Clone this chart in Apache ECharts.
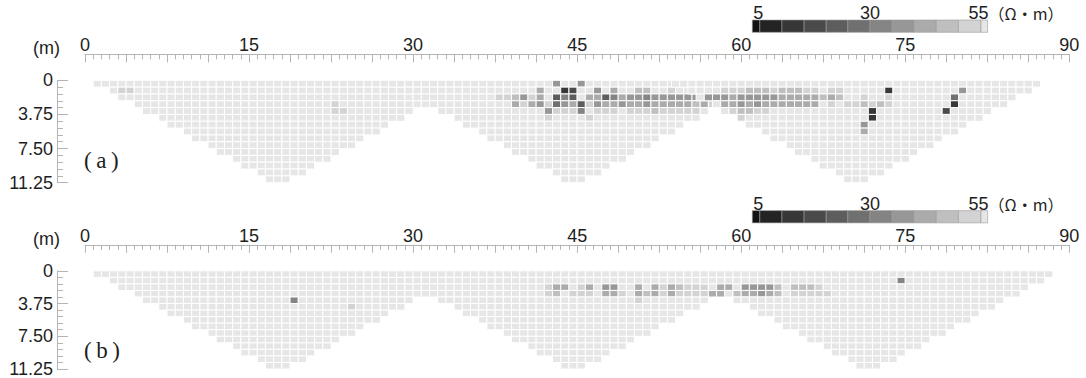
<!DOCTYPE html>
<html>
<head>
<meta charset="utf-8">
<script src="https://cdn.jsdelivr.net/npm/echarts@6/dist/echarts.min.js"></script>
<style>
  html, body { margin: 0; padding: 0; background: #ffffff; }
  #chart { width: 1086px; height: 378px; }
</style>
</head>
<body>
<div id="chart"></div>
<script>
// ---- tick labels ----
const xTickLabels = [0, 15, 30, 45, 60, 75, 90];
const depthTickLabels = ['0', '3.75', '7.50', '11.25'];
const colorbarTicks = [5, 30, 55];
const colorbarUnit = '（Ω・m）';
const panelTags = ['(\u2009a\u2009)', '(\u2009b\u2009)'];

// ---- resistivity classes (Ω·m) and their grey shades ----
const classBreaks = [5, 6.6, 11.3, 16, 20.7, 25.3, 30, 34.7, 39.4, 44.1, 48.8, 53.6, 55];
const classColors = ['#121212', '#232323', '#373737', '#4a4a4a', '#5d5d5d', '#707070',
                     '#848484', '#979797', '#ababab', '#bfbfbf', '#d3d3d3', '#e6e6e6'];

// ---- pseudo-section geometry: one spread, level 0 (top) .. 14 (bottom) ----
const cellSize = 0.75;   // m
const spreadLeft  = [0.75, 2.25, 3.0, 4.5, 5.25, 6.75, 7.5, 9.0, 9.75, 11.25, 12.0, 13.5, 14.25, 15.75, 16.5];
const spreadRight = [34.5, 33.75, 32.25, 31.5, 30.0, 29.25, 27.75, 27.0, 25.5, 24.75, 23.25, 22.5, 21.0, 20.25, 18.75];
const spreadOffsetsA = [0, 27, 52.875];
const spreadOffsetsB = [0, 27, 54];
const backgroundRho = 54;

// ---- measured cells differing from background: [level, left edge (m), ρ] ----
const cellsA1 = [
  [1, 3.0, 51], [1, 3.75, 51], [3, 22.5, 51], [4, 22.5, 51], [4, 23.25, 51]
];
const cellsA2 = [
  [0, 42.75, 37], [0, 45.0, 37],
  [1, 41.25, 42], [1, 43.5, 14], [1, 44.25, 18], [1, 46.5, 37], [1, 48.0, 42], [1, 50.25, 46], [1, 51.0, 46], [1, 53.25, 51],
  [2, 37.5, 51], [2, 38.25, 51], [2, 39.0, 46], [2, 39.75, 37], [2, 40.5, 51], [2, 41.25, 42], [2, 42.75, 23], [2, 43.5, 32],
  [2, 44.25, 23], [2, 45.75, 42], [2, 46.5, 42], [2, 47.25, 23], [2, 48.0, 32], [2, 48.75, 42], [2, 49.5, 37], [2, 50.25, 37],
  [2, 51.0, 32], [2, 51.75, 37], [2, 52.5, 37], [2, 53.25, 37], [2, 54.0, 37], [2, 54.75, 37], [2, 55.5, 37],
  [3, 39.0, 42], [3, 39.75, 51], [3, 40.5, 42], [3, 41.25, 37], [3, 42.0, 51], [3, 42.75, 28], [3, 43.5, 37], [3, 44.25, 42],
  [3, 45.0, 23], [3, 45.75, 51], [3, 46.5, 37], [3, 47.25, 42], [3, 48.0, 42], [3, 48.75, 37], [3, 49.5, 42], [3, 50.25, 42],
  [3, 51.0, 37], [3, 51.75, 42], [3, 52.5, 42], [3, 53.25, 42], [3, 54.0, 42], [3, 54.75, 42], [3, 55.5, 46], [3, 56.25, 42], [3, 57.0, 51],
  [4, 42.0, 37], [4, 42.75, 51], [4, 43.5, 51], [4, 44.25, 51], [4, 45.0, 32], [4, 46.5, 51], [4, 47.25, 51], [4, 48.0, 51],
  [4, 49.5, 51], [4, 50.25, 51], [4, 51.0, 51], [4, 51.75, 46], [4, 52.5, 51], [4, 53.25, 51], [4, 54.0, 51], [4, 54.75, 51], [4, 55.5, 51],
  [5, 42.0, 51], [5, 45.75, 51]
];
const cellsA3 = [
  [1, 58.125, 51], [1, 58.875, 51], [1, 59.625, 51], [1, 60.375, 48], [1, 61.125, 46], [1, 61.875, 46], [1, 62.625, 51],
  [1, 63.375, 46], [1, 64.125, 46], [1, 64.875, 46], [1, 65.625, 51], [1, 66.375, 51], [1, 67.875, 51], [1, 68.625, 51],
  [1, 73.125, 14], [1, 79.875, 37],
  [2, 56.625, 37], [2, 57.375, 37], [2, 58.125, 37], [2, 58.875, 42], [2, 59.625, 37], [2, 60.375, 37], [2, 61.125, 37],
  [2, 61.875, 37], [2, 62.625, 37], [2, 63.375, 42], [2, 64.125, 42], [2, 64.875, 42], [2, 65.625, 42], [2, 66.375, 42],
  [2, 67.125, 46], [2, 67.875, 42], [2, 68.625, 46], [2, 70.875, 51], [2, 73.125, 51], [2, 79.125, 28],
  [3, 58.125, 42], [3, 58.875, 42], [3, 59.625, 37], [3, 60.375, 42], [3, 61.125, 37], [3, 61.875, 42], [3, 62.625, 42],
  [3, 63.375, 42], [3, 64.125, 42], [3, 64.875, 42], [3, 65.625, 42], [3, 66.375, 42], [3, 67.875, 51], [3, 69.375, 51],
  [3, 70.125, 51], [3, 70.875, 46], [3, 71.625, 51], [3, 72.375, 46], [3, 73.125, 51], [3, 79.125, 14],
  [4, 58.875, 51], [4, 59.625, 46], [4, 60.375, 46], [4, 61.125, 51], [4, 61.875, 51], [4, 71.625, 14], [4, 78.375, 20],
  [5, 59.625, 51], [5, 71.625, 14],
  [6, 70.875, 37], [7, 70.875, 42]
];
const cellsB1 = [
  [4, 18.75, 32], [5, 24.0, 51]
];
const cellsB2 = [
  [2, 42.0, 51], [2, 42.75, 42], [2, 43.5, 42], [2, 45.0, 51], [2, 45.75, 42], [2, 47.25, 37], [2, 48.0, 37], [2, 50.25, 42],
  [2, 51.75, 42], [2, 52.5, 51], [2, 53.25, 42], [2, 54.0, 46], [2, 54.75, 51], [2, 55.5, 51], [2, 56.25, 51],
  [3, 42.0, 51], [3, 42.75, 46], [3, 44.25, 51], [3, 45.0, 51], [3, 45.75, 51], [3, 47.25, 42], [3, 48.0, 42], [3, 48.75, 51],
  [3, 50.25, 42], [3, 51.0, 46], [3, 51.75, 42], [3, 52.5, 51], [3, 53.25, 42], [3, 54.0, 51], [3, 54.75, 51], [3, 55.5, 51],
  [3, 56.25, 51], [3, 57.0, 40], [3, 57.75, 40],
  [4, 50.25, 51]
];
const cellsB3 = [
  [1, 74.25, 31],
  [2, 57.75, 42], [2, 58.5, 42], [2, 60.0, 37], [2, 60.75, 37], [2, 61.5, 37], [2, 62.25, 37], [2, 63.0, 46],
  [2, 64.5, 46], [2, 65.25, 46], [2, 66.0, 46], [2, 66.75, 51],
  [3, 59.25, 46], [3, 60.0, 42], [3, 60.75, 42], [3, 61.5, 37], [3, 62.25, 42], [3, 63.0, 46], [3, 64.5, 51],
  [3, 65.25, 51], [3, 66.0, 51], [3, 66.75, 51], [3, 67.5, 51]
];

// ---- layout (px) ----
const FONT = '"Liberation Sans", Arial, sans-serif';
const INK = '#1e1e1e';
const AXIS_GREY = '#b4b4b4';
const plotLeft = 85, plotWidth = 984.3, plotHeight = 102.4;
const panelTops = [80.3, 270.8];
const barLeft = 752.3, barWidth = 235.3, barHeight = 12.3;
const barTops = [20, 210.6];

function colorOf(v) {
  for (let i = 0; i < classColors.length; i++) {
    if (v < classBreaks[i + 1]) return classColors[i];
  }
  return classColors[classColors.length - 1];
}

// Fill every level of each spread; measured cells replace the background value.
function buildSpreads(offsets, cellLists) {
  return offsets.map((off, s) => {
    const lookup = new Map();
    cellLists[s].forEach(([lvl, x, v]) => lookup.set(lvl + ':' + x.toFixed(3), v));
    const data = [];
    for (let lvl = 0; lvl < spreadLeft.length; lvl++) {
      const n = Math.round((spreadRight[lvl] - spreadLeft[lvl]) / cellSize);
      for (let i = 0; i < n; i++) {
        const x = spreadLeft[lvl] + off + i * cellSize;
        const key = lvl + ':' + x.toFixed(3);
        data.push([x, lvl * cellSize, lookup.has(key) ? lookup.get(key) : backgroundRho]);
      }
    }
    return data;
  });
}

const panelData = [
  buildSpreads(spreadOffsetsA, [cellsA1, cellsA2, cellsA3]),
  buildSpreads(spreadOffsetsB, [cellsB1, cellsB2, cellsB3])
];

function renderCell(params, api) {
  const x = api.value(0), d = api.value(1);
  const p0 = api.coord([x, d]);
  const p1 = api.coord([x + cellSize, d + cellSize]);
  return {
    type: 'rect',
    shape: { x: p0[0], y: p0[1], width: p1[0] - p0[0], height: p1[1] - p0[1] },
    style: { fill: colorOf(api.value(2)), stroke: '#ffffff', lineWidth: 1 }
  };
}

function renderBarClass(params, api) {
  const p0 = api.coord([api.value(0), 0]);
  const p1 = api.coord([api.value(1), 1]);
  return {
    type: 'rect',
    shape: { x: p0[0], y: p1[1], width: p1[0] - p0[0], height: p0[1] - p1[1] },
    style: { fill: classColors[api.value(2)], stroke: '#9a9a9a', lineWidth: 0.6 }
  };
}

const colorbarData = classColors.map((c, i) => [classBreaks[i], classBreaks[i + 1], i]);

const grids = [], xAxes = [], yAxes = [], series = [];
panelTops.forEach((top, p) => {
  grids.push({ left: plotLeft, top: top, width: plotWidth, height: plotHeight });
  xAxes.push({
    gridIndex: p, type: 'value', position: 'top', offset: 26,
    min: 0, max: 90, interval: 3.75,
    axisLine: { show: true, onZero: false, lineStyle: { color: AXIS_GREY, width: 1 } },
    axisTick: { show: true, inside: true, length: 8, lineStyle: { color: AXIS_GREY, width: 1 } },
    minorTick: { show: true, splitNumber: 5, length: 5, lineStyle: { color: AXIS_GREY, width: 1 } },
    splitLine: { show: false },
    axisLabel: {
      margin: 0, fontSize: 18, fontFamily: FONT, color: INK,
      formatter: v => (xTickLabels.indexOf(v) >= 0 ? String(v) : '')
    }
  });
  yAxes.push({
    gridIndex: p, type: 'value', inverse: true, offset: 28,
    min: 0, max: 11.25, interval: 3.75,
    axisLine: { show: true, onZero: false, lineStyle: { color: AXIS_GREY, width: 1 } },
    axisTick: { show: true, inside: true, length: 11, lineStyle: { color: AXIS_GREY, width: 1 } },
    minorTick: { show: true, splitNumber: 5, length: 6, lineStyle: { color: AXIS_GREY, width: 1 } },
    splitLine: { show: false },
    axisLabel: {
      margin: 4, fontSize: 18, fontFamily: FONT, color: INK,
      formatter: v => depthTickLabels[Math.round(v / 3.75)]
    }
  });
  panelData[p].forEach((data, s) => {
    series.push({
      type: 'custom', name: 'spread' + (s + 1), xAxisIndex: p, yAxisIndex: p,
      renderItem: renderCell, data: data, silent: true, animation: false
    });
  });
});
barTops.forEach((top, p) => {
  const gi = grids.length;
  grids.push({ left: barLeft, top: top, width: barWidth, height: barHeight });
  xAxes.push({ gridIndex: gi, type: 'value', min: classBreaks[0], max: classBreaks[classBreaks.length - 1], show: false });
  yAxes.push({ gridIndex: gi, type: 'value', min: 0, max: 1, show: false });
  series.push({
    type: 'custom', xAxisIndex: gi, yAxisIndex: gi, renderItem: renderBarClass,
    data: colorbarData, silent: true, animation: false, encode: { x: [0, 1], y: 2 }
  });
});

const chart = echarts.init(document.getElementById('chart'), null, { renderer: 'svg' });
chart.setOption({
  animation: false,
  backgroundColor: '#ffffff',
  grid: grids, xAxis: xAxes, yAxis: yAxes, series: series
});

// Text annotations: unit labels, panel tags and colour-scale values
const graphics = [];
barTops.forEach((top, p) => {
  const axisIdx = 2 + p;
  const px = v => chart.convertToPixel({ xAxisIndex: axisIdx }, v);
  const labelY = top + 2;
  graphics.push({
    type: 'text', x: px(colorbarTicks[0]) + 1, y: labelY,
    style: { text: String(colorbarTicks[0]), font: '18px ' + FONT, fill: INK, align: 'left', verticalAlign: 'bottom' }
  });
  graphics.push({
    type: 'text', x: px(colorbarTicks[1]), y: labelY,
    style: { text: String(colorbarTicks[1]), font: '18px ' + FONT, fill: INK, align: 'center', verticalAlign: 'bottom' }
  });
  graphics.push({
    type: 'text', x: px(colorbarTicks[2]) - 19, y: labelY,
    style: {
      text: '{n|' + colorbarTicks[2] + '}{u|' + colorbarUnit + '}', verticalAlign: 'bottom', fill: INK,
      rich: {
        n: { fontSize: 18, fontFamily: FONT, fill: INK },
        u: { fontSize: 16, fontFamily: '"Noto Sans CJK JP", sans-serif', fill: INK }
      }
    }
  });
});
panelTops.forEach((top, p) => {
  graphics.push({
    type: 'text', x: 46.5, y: top - 32,
    style: { text: '(m)', font: '18px ' + FONT, fill: INK, align: 'center', verticalAlign: 'middle' }
  });
  graphics.push({
    type: 'text', x: 84, y: top + 80,
    style: { text: panelTags[p], font: '23px "Liberation Serif", "DejaVu Serif", serif', fill: INK, align: 'left', verticalAlign: 'middle' }
  });
});
chart.setOption({ graphic: graphics });
</script>
</body>
</html>
